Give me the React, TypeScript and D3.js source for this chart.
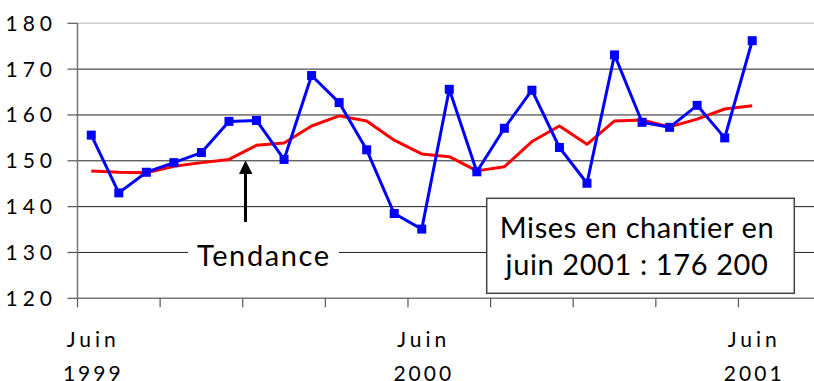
import React from "react";
import * as d3 from "d3";

const months = [
  "1999-06","1999-07","1999-08","1999-09","1999-10","1999-11","1999-12",
  "2000-01","2000-02","2000-03","2000-04","2000-05","2000-06","2000-07",
  "2000-08","2000-09","2000-10","2000-11","2000-12","2001-01","2001-02",
  "2001-03","2001-04","2001-05","2001-06",
];
const mises = [
  155.6, 143.0, 147.5, 149.6, 151.8, 158.6, 158.8, 150.3, 168.6, 162.7,
  152.4, 138.5, 135.1, 165.6, 147.6, 157.1, 165.4, 152.9, 145.1, 173.1,
  158.4, 157.3, 162.1, 155.0, 176.2,
];
const tendance = [
  147.8, 147.5, 147.4, 148.8, 149.6, 150.3, 153.4, 153.9, 157.6, 159.8,
  158.7, 154.5, 151.5, 150.9, 147.8, 148.7, 154.2, 157.6, 153.6, 158.7,
  158.9, 157.4, 159.1, 161.3, 162.0,
];
const yTicks = [120, 130, 140, 150, 160, 170, 180];
const xLabels = [
  { i: 0, l1: "Juin", l2: "1999" },
  { i: 12, l1: "Juin", l2: "2000" },
  { i: 24, l1: "Juin", l2: "2001" },
];
const tickIdx = [-0.5, 2.5, 5.5, 8.5, 11.5, 14.5, 17.5, 20.5, 23.5];

const W = 814, H = 381;
const FONT = "Lato, 'Open Sans', sans-serif";

export default function App() {
  const x = d3.scaleLinear().domain([-0.5, 24.5]).range([77.5, 766]);
  const y = d3.scaleLinear().domain([120, 180]).range([298.3, 23.3]);
  const line = d3.line<number>().x((_, i) => x(i)).y((v) => y(v));
  const xLeft = x(-0.5);

  return (
    <svg width={W} height={H} style={{ position: "absolute", left: 0, top: 0, background: "#fff" }}
      fontFamily={FONT}>
      {/* gridlines */}
      {yTicks.filter((t) => t > 120).map((t) => (
        <line key={t} x1={xLeft} x2={W} y1={y(t)} y2={y(t)}
          stroke={t === 180 ? "#d0d0d0" : "#222"} strokeWidth={t === 180 ? 1.5 : 1} />
      ))}
      {/* y axis */}
      <line x1={xLeft} x2={xLeft} y1={y(180)} y2={y(120)} stroke="#777" strokeWidth={1.5} />
      {yTicks.map((t) => (
        <g key={t}>
          <line x1={xLeft - 10} x2={xLeft} y1={y(t)} y2={y(t)} stroke="#555" strokeWidth={1.2} />
          <text x={57} y={y(t) + 7.5} textAnchor="end" fontSize={21} letterSpacing={5} fill="#000">
            {t}
          </text>
        </g>
      ))}
      {/* x axis */}
      <line x1={xLeft} x2={W} y1={y(120)} y2={y(120)} stroke="#777" strokeWidth={1.5} />
      {tickIdx.map((i) => (
        <line key={i} x1={x(i)} x2={x(i)} y1={y(120)} y2={y(120) + 9} stroke="#555" strokeWidth={1.2} />
      ))}
      {xLabels.map((d) => (
        <g key={d.i}>
          <text x={x(d.i) + 2} y={347} textAnchor="middle" fontSize={21} letterSpacing={4} fill="#000">{d.l1}</text>
          <text x={x(d.i) + 2} y={381} textAnchor="middle" fontSize={21} letterSpacing={3} fill="#000">{d.l2}</text>
        </g>
      ))}
      {/* Tendance label */}
      <rect x={188} y={234} width={151} height={40} fill="#fff" />
      <text x={197} y={266} fontSize={29} letterSpacing={1.6} fill="#000">Tendance</text>
      {/* arrow */}
      <line x1={245.5} x2={245.5} y1={222} y2={172} stroke="#000" strokeWidth={3} />
      <polygon points="239,174 252.5,174 245.5,160.5" fill="#000" />
      {/* box */}
      <rect x={486.7} y={198.3} width={307.6} height={95} fill="#fff" stroke="#444" strokeWidth={1.5} />
      <text x={637} y={237.5} textAnchor="middle" fontSize={29} letterSpacing={0.6} fill="#000">Mises en chantier en</text>
      <text x={637} y={275} textAnchor="middle" fontSize={29} letterSpacing={0.6} fill="#000">juin 2001 : 176 200</text>
      {/* series */}
      <path d={line(tendance) ?? ""} fill="none" stroke="#ff0000" strokeWidth={3} strokeLinejoin="round" />
      <path d={line(mises) ?? ""} fill="none" stroke="#0000ff" strokeWidth={3} strokeLinejoin="round" />
      {mises.map((v, i) => (
        <rect key={months[i]} x={x(i) - 4.5} y={y(v) - 4.5} width={9} height={9} fill="#0000ff" />
      ))}
    </svg>
  );
}
